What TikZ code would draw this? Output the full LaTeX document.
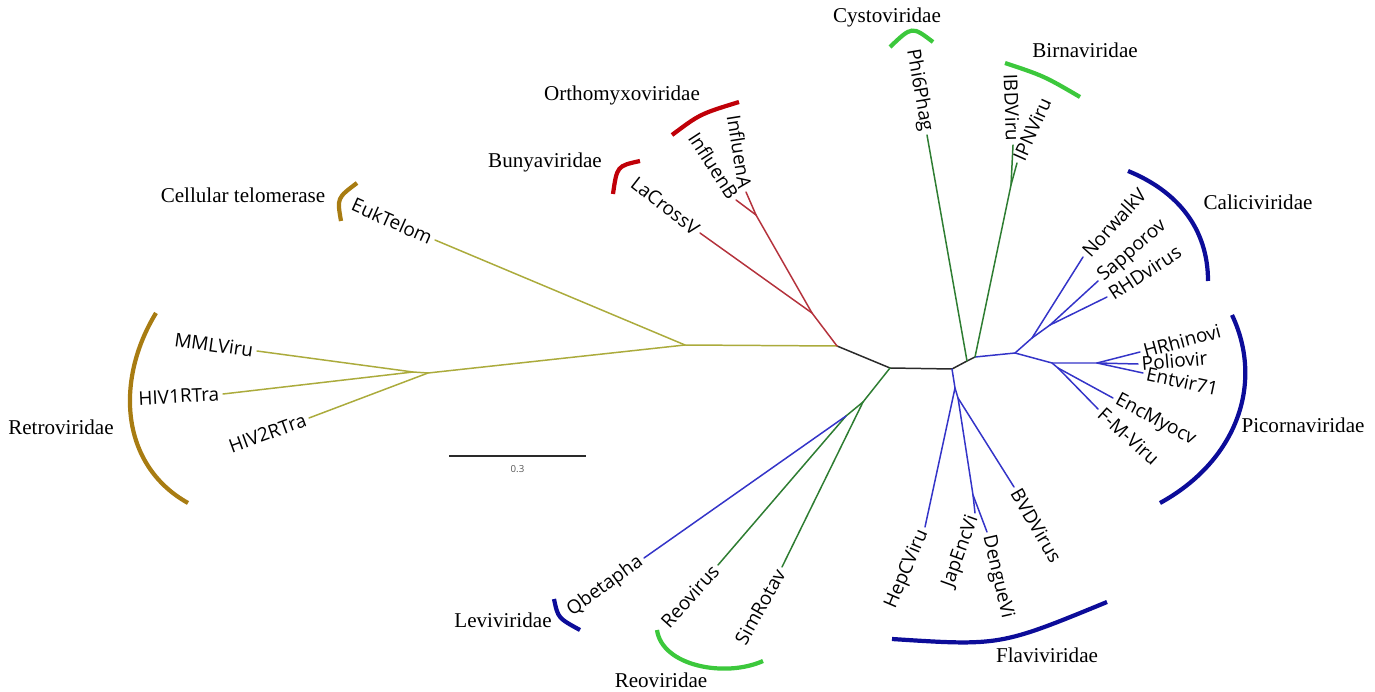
\documentclass[tikz,border=0pt]{standalone}
\usepackage{fontspec}
\setmainfont{Liberation Serif}
\newfontfamily\leaffont{Open Sans}
\usepackage{tikz}
\usetikzlibrary{calc}
\definecolor{TreeOlive}{HTML}{ABAB3C}
\definecolor{TreeRed}{HTML}{B4323C}
\definecolor{TreeGreen}{HTML}{2E7D32}
\definecolor{TreeBlue}{HTML}{3434C8}
\definecolor{TreeDark}{HTML}{2A2A2A}
\definecolor{CladeGold}{HTML}{A87C12}
\definecolor{CladeRed}{HTML}{C00008}
\definecolor{CladeGreen}{HTML}{3CC83C}
\definecolor{CladeNavy}{HTML}{0C0C99}

\begin{document}
\begin{tikzpicture}[x=0.02cm,y=-0.02cm,
  leaf/.style={font=\leaffont\fontsize{10.8}{12}\selectfont,inner sep=2pt},
  leafL/.style={leaf,anchor=east},
  leafR/.style={leaf,anchor=west},
  clade/.style={font=\fontsize{12}{14}\selectfont,inner sep=0pt},
  br/.style={line width=0.85pt,line cap=round,line join=round},
  cladearc/.style={line width=2.4pt}]
  \useasboundingbox (0,0) rectangle (1375,692);

  \coordinate (a) at (837,346);
  \coordinate (b) at (890,368);
  \coordinate (c) at (952,369);
  \coordinate (d) at (967,361);
  \coordinate (e) at (975,357);
  \coordinate (f) at (1015,353);
  \coordinate (y1) at (685,345);
  \coordinate (y2) at (428,373);
  \coordinate (y3) at (413,372);
  \coordinate (r1) at (812,313);
  \coordinate (r2) at (756,215);
  \coordinate (g1) at (863,402);
  \coordinate (g2) at (846,416);
  \coordinate (bi) at (1011,185);
  \coordinate (v1) at (955,388);
  \coordinate (v2) at (958,398);
  \coordinate (v3) at (973,495);
  \coordinate (k1) at (1032,338);
  \coordinate (k2) at (1050,325);
  \coordinate (p1) at (1052,363);
  \coordinate (p2) at (1097,363);
  \coordinate (p3) at (1058,368);

  \coordinate (tEuk) at (435,240);
  \coordinate (tMml) at (257,351);
  \coordinate (tHiv1) at (223,394);
  \coordinate (tHiv2) at (309,418);
  \coordinate (tLac) at (700,233);
  \coordinate (tInfB) at (736,200);
  \coordinate (tInfA) at (746,192);
  \coordinate (tPhi) at (927,135);
  \coordinate (tIbd) at (1013,145);
  \coordinate (tIpn) at (1017,163);
  \coordinate (tNor) at (1083,257);
  \coordinate (tSap) at (1098,281);
  \coordinate (tRhd) at (1107,297);
  \coordinate (tHrh) at (1140,352);
  \coordinate (tPol) at (1138,364);
  \coordinate (tEnt) at (1143,373);
  \coordinate (tEnc) at (1113,398);
  \coordinate (tFmv) at (1098,409);
  \coordinate (tBvd) at (1014,487);
  \coordinate (tDen) at (987,532);
  \coordinate (tJap) at (975,513);
  \coordinate (tHep) at (925,527);
  \coordinate (tQbe) at (644,558);
  \coordinate (tReo) at (718,565);
  \coordinate (tSim) at (782,567);

  \draw[br,TreeDark] (a) -- (b) -- (c) -- (d) -- (e);
  \draw[br,TreeBlue] (e) -- (f);
  \draw[br,TreeOlive] (a) -- (y1) -- (tEuk);
  \draw[br,TreeOlive] (y1) -- (y2) -- (tHiv2);
  \draw[br,TreeOlive] (y2) -- (y3) -- (tMml);
  \draw[br,TreeOlive] (y3) -- (tHiv1);
  \draw[br,TreeRed] (a) -- (r1) -- (tLac);
  \draw[br,TreeRed] (r1) -- (r2) -- (tInfA);
  \draw[br,TreeRed] (r2) -- (tInfB);
  \draw[br,TreeGreen] (d) -- (tPhi);
  \draw[br,TreeGreen] (e) -- (bi) -- (tIbd);
  \draw[br,TreeGreen] (bi) -- (tIpn);
  \draw[br,TreeGreen] (b) -- (g1) -- (tSim);
  \draw[br,TreeGreen] (g1) -- (g2) -- (tReo);
  \draw[br,TreeBlue] (g2) -- (tQbe);
  \draw[br,TreeBlue] (c) -- (v1) -- (tHep);
  \draw[br,TreeBlue] (v1) -- (v2) -- (tBvd);
  \draw[br,TreeBlue] (v2) -- (v3) -- (tDen);
  \draw[br,TreeBlue] (v3) -- (tJap);
  \draw[br,TreeBlue] (f) -- (k1) -- (tNor);
  \draw[br,TreeBlue] (k1) -- (k2) -- (tSap);
  \draw[br,TreeBlue] (k2) -- (tRhd);
  \draw[br,TreeBlue] (f) -- (p1) -- (p2) -- (tHrh);
  \draw[br,TreeBlue] (p2) -- (tPol);
  \draw[br,TreeBlue] (p2) -- (tEnt);
  \draw[br,TreeBlue] (p1) -- (p3) -- (tEnc);
  \draw[br,TreeBlue] (p3) -- (tFmv);

  \node[leafL,rotate=-24] (euk) at (tEuk) {EukTelom};
  \node[leafL,rotate=-8] (mml) at (tMml) {MMLViru};
  \node[leafL,rotate=3] (hiv1) at (tHiv1) {HIV1RTra};
  \node[leafL,rotate=20] (hiv2) at (tHiv2) {HIV2RTra};
  \node[leafL,rotate=-38] (lac) at (tLac) {LaCrossV};
  \node[leafL,rotate=-57] (infb) at (tInfB) {InfluenB};
  \node[leafL,rotate=-81] (infa) at (tInfA) {InfluenA};
  \node[leafL,rotate=-80] (phi) at (tPhi) {Phi6Phag};
  \node[leafL,rotate=-88] (ibd) at (tIbd) {IBDViru};
  \node[leafR,rotate=66] (ipn) at (tIpn) {IPNViru};
  \node[leafR,rotate=48] (nor) at (tNor) {NorwalkV};
  \node[leafR,rotate=41] (sap) at (tSap) {Sapporov};
  \node[leafR,rotate=33] (rhd) at (tRhd) {RHDvirus};
  \node[leafR,rotate=15] (hrh) at (tHrh) {HRhinovi};
  \node[leafR,rotate=5] (pol) at (tPol) {Poliovir};
  \node[leafR,rotate=-12] (ent) at (tEnt) {Entvir71};
  \node[leafR,rotate=-28] (enc) at (tEnc) {EncMyocv};
  \node[leafR,rotate=-42] (fmv) at (tFmv) {F-M-Viru};
  \node[leafR,rotate=-60] (bvd) at (tBvd) {BVDVirus};
  \node[leafR,rotate=-77] (den) at (tDen) {DengueVi};
  \node[leafL,rotate=70] (jap) at (tJap) {JapEncVi};
  \node[leafL,rotate=67] (hep) at (tHep) {HepCViru};
  \node[leafL,rotate=36] (qbe) at (tQbe) {Qbetapha};
  \node[leafL,rotate=48] (reo) at (tReo) {Reovirus};
  \node[leafL,rotate=61] (sim) at (tSim) {SimRotav};

  \draw[cladearc,CladeGold] (357,183) .. controls (337,198) .. (341,221);
  \draw[cladearc,CladeGold] (156,313) .. controls (115,380) and (120,465) .. (188,503);
  \draw[cladearc,CladeRed] (672,135) .. controls (700,114) .. (739,102);
  \draw[cladearc,CladeRed] (640,161) .. controls (617,166) .. (613,194);
  \draw[cladearc,CladeGreen] (890,47) .. controls (912,26) .. (933,42);
  \draw[cladearc,CladeGreen] (1005,63) .. controls (1044,76) .. (1080,97);
  \draw[cladearc,CladeNavy] (1128,171) .. controls (1177,191) and (1208,228) .. (1208,281);
  \draw[cladearc,CladeNavy] (1232,315) .. controls (1265,385) and (1235,462) .. (1160,503);
  \draw[cladearc,CladeNavy] (892,639) .. controls (1000,646) .. (1107,602);
  \draw[cladearc,CladeNavy] (554,599) .. controls (558,618) .. (580,630);
  \draw[cladearc,CladeGreen] (657,630) .. controls (662,666) and (725,678) .. (763,661);

  \node[clade] (telo) at (243,195) {Cellular telomerase};
  \node[clade] (retro) at (61,427) {Retroviridae};
  \node[clade] (ortho) at (622,95) {Orthomyxoviridae};
  \node[clade] (bunya) at (545,162) {Bunyaviridae};
  \node[clade] (cysto) at (887,17) {Cystoviridae};
  \node[clade] (birna) at (1085,50) {Birnaviridae};
  \node[clade] (calici) at (1258,202) {Caliciviridae};
  \node[clade] (picorna) at (1303,425) {Picornaviridae};
  \node[clade] (flavi) at (1047,655) {Flaviviridae};
  \node[clade] (levi) at (503,620) {Leviviridae};
  \node[clade] (reov) at (661,680) {Reoviridae};

  \coordinate (sb0) at (449,456);
  \coordinate (sb1) at (586,456);
  \draw[line width=0.7pt,TreeDark] (sb0) -- (sb1);
  \node[font=\leaffont\fontsize{5.5}{6}\selectfont,text=TreeDark!80] (sblab) at ($(sb0)!0.5!(sb1)+(0,13)$) {0.3};
\end{tikzpicture}
\end{document}
